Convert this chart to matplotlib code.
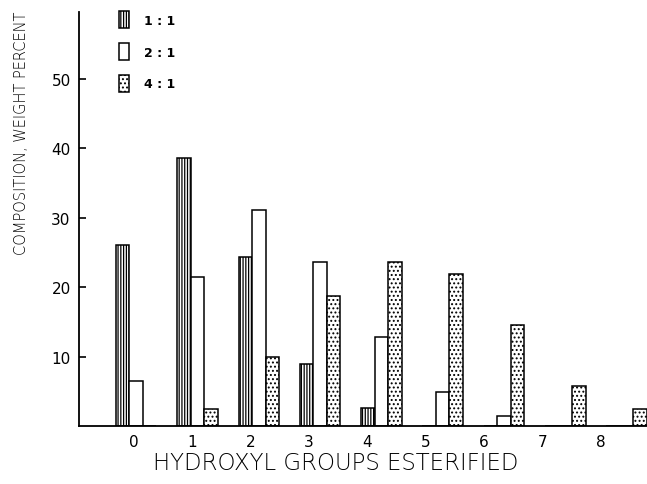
import matplotlib
matplotlib.use("Agg")
import matplotlib.pyplot as plt
import numpy as np

# hydroxyl groups esterified, 0..8
groups = ['0', '1', '2', '3', '4', '5', '6', '7', '8']
ratios = ['1 : 1', '2 : 1', '4 : 1']

# composition, weight percent
ratio_1_1 = [26.0, 38.6, 24.3, 8.9, 2.6, 0.0, 0.0, 0.0, 0.0]
ratio_2_1 = [6.5, 21.4, 31.1, 23.6, 12.8, 4.9, 1.4, 0.0, 0.0]
ratio_4_1 = [0.0, 2.4, 9.9, 18.7, 23.6, 21.9, 14.5, 5.8, 2.5]

yticks = [10, 20, 30, 40, 50]

plt.rcParams['hatch.linewidth'] = 0.9

fig = plt.figure(figsize=(6.47, 4.85), dpi=100)
ax = fig.add_axes([79/647, 58/485, 568/647, 414/485])

x = np.arange(len(groups))
pos = x * 1.05 + 0.04   # bars drift a bit vs. the tick labels in the original
w = 0.231

ax.bar(pos - w, ratio_1_1, w, facecolor='white', edgecolor='black',
       hatch='||||||', linewidth=1.1, label=ratios[0])
ax.bar(pos, ratio_2_1, w, facecolor='white', edgecolor='black',
       linewidth=1.1, label=ratios[1])
ax.bar(pos + w, ratio_4_1, w, facecolor='white', edgecolor='black',
       hatch='....', linewidth=1.1, label=ratios[2])

ax.set_xlim(-0.94, 8.79)
ax.set_ylim(0, 59.6)

ax.set_xticks(x)
ax.set_xticklabels(groups, fontsize=11)
ax.set_yticks(yticks)
ax.set_yticklabels([str(v) for v in yticks], fontsize=11)
ax.tick_params(axis='x', length=0, pad=6)
ax.tick_params(axis='y', direction='in', length=5, width=1.2, pad=6)

for s in ['top', 'right']:
    ax.spines[s].set_visible(False)
for s in ['left', 'bottom']:
    ax.spines[s].set_linewidth(1.3)

leg = ax.legend(loc='upper left', bbox_to_anchor=(108/647, 1 - 1/485),
                bbox_transform=fig.transFigure, frameon=False,
                handlelength=0.75, handleheight=1.7, labelspacing=1.2,
                handletextpad=1.2, fontsize=9)
for t in leg.get_texts():
    t.set_fontweight('bold')

fig.text(22/647, 1 - 133/485, 'COMPOSITION, WEIGHT PERCENT', rotation=90,
         ha='center', va='center', fontsize=10.5, fontweight='light',
         color='black')
fig.text(336/647, 1 - 463/485, 'HYDROXYL GROUPS ESTERIFIED',
         ha='center', va='center', fontsize=16.5, fontweight='light',
         color='black')

fig.savefig('out.png', dpi=100)
